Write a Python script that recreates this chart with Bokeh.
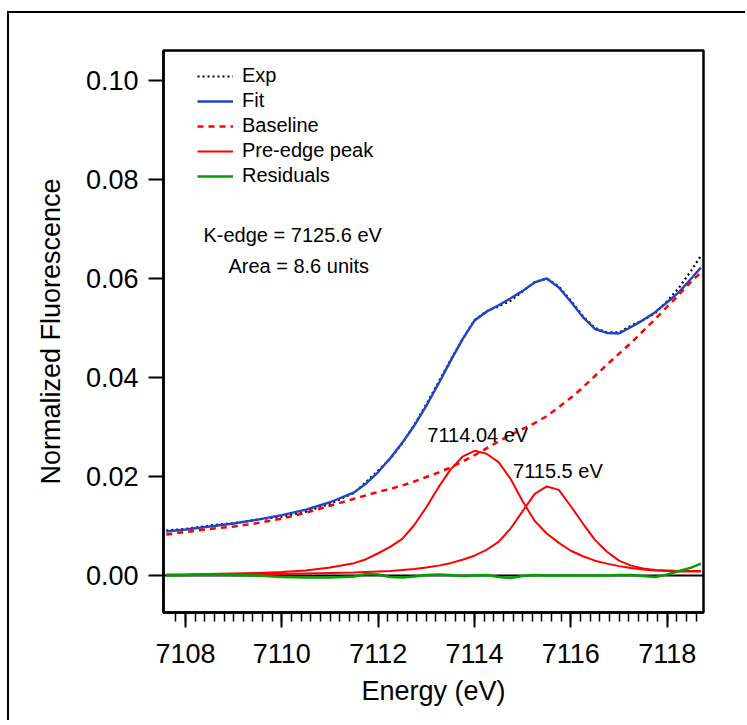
from bokeh.plotting import figure
from bokeh.models import (FixedTicker, Legend, LegendItem, Label, InlineStyleSheet,
                          Span, PrintfTickFormatter, Range1d)
from bokeh.embed import file_html
from bokeh.resources import INLINE

# ---------------- data ----------------
energy = [7107.6, 7108.0, 7108.5, 7109.0, 7109.5, 7110.0, 7110.5, 7111.0, 7111.5,
          7111.75, 7112.0, 7112.25, 7112.5, 7112.75, 7113.0, 7113.25, 7113.5,
          7113.75, 7114.0, 7114.25, 7114.5, 7114.75, 7115.0, 7115.25, 7115.5,
          7115.75, 7116.0, 7116.25, 7116.5, 7116.75, 7117.0, 7117.25, 7117.5,
          7117.75, 7118.0, 7118.25, 7118.5, 7118.7]

exp = [0.0091, 0.0094, 0.0101, 0.0106, 0.0113, 0.0119, 0.0129, 0.0145, 0.0167,
       0.0189, 0.0212, 0.0236, 0.0267, 0.0304, 0.0346, 0.0390, 0.0435,
       0.0477, 0.0516, 0.0534, 0.0544, 0.0555, 0.0574, 0.0593, 0.0600,
       0.0584, 0.0555, 0.0524, 0.0500, 0.0491, 0.0491, 0.0505, 0.0516,
       0.0530, 0.0554, 0.0582, 0.0616, 0.0646]

fit = [0.0089, 0.0093, 0.0099, 0.0105, 0.0113, 0.0122, 0.0133, 0.0148, 0.0168,
       0.0186, 0.0209, 0.0237, 0.0268, 0.0303, 0.0343, 0.0387, 0.0433,
       0.0477, 0.0515, 0.0533, 0.0546, 0.0560, 0.0575, 0.0592, 0.0600,
       0.0582, 0.0553, 0.0522, 0.0498, 0.0490, 0.0489, 0.0502, 0.0516,
       0.0532, 0.0552, 0.0573, 0.0600, 0.0622]

baseline = [0.0083, 0.0088, 0.0094, 0.0099, 0.0106, 0.0115, 0.0127, 0.0141, 0.0155,
            0.0162, 0.0169, 0.0175, 0.0182, 0.0190, 0.0199, 0.0208, 0.0218,
            0.0230, 0.0243, 0.0257, 0.0271, 0.0284, 0.0296, 0.0308, 0.0322,
            0.0340, 0.0359, 0.0380, 0.0403, 0.0426, 0.0448, 0.0470, 0.0494,
            0.0518, 0.0543, 0.0568, 0.0594, 0.0612]

peak1 = [0.0002, 0.0002, 0.0003, 0.0004, 0.0005, 0.0007, 0.0010, 0.0016, 0.0025,
         0.0033, 0.0045, 0.0058, 0.0074, 0.0102, 0.0138, 0.0178, 0.0214,
         0.0240, 0.0252, 0.0246, 0.0229, 0.0195, 0.0150, 0.0110, 0.0085,
         0.0066, 0.0050, 0.0039, 0.0030, 0.0024, 0.0019, 0.0015, 0.0012,
         0.0010, 0.0009, 0.0008, 0.0008, 0.0008]

peak2 = [0.0001, 0.0001, 0.0002, 0.0002, 0.0003, 0.0003, 0.0004, 0.0005, 0.0006,
         0.0007, 0.0008, 0.0009, 0.0011, 0.0013, 0.0016, 0.0020, 0.0025,
         0.0032, 0.0040, 0.0052, 0.0068, 0.0095, 0.0130, 0.0165, 0.0180,
         0.0173, 0.0140, 0.0105, 0.0072, 0.0048, 0.0030, 0.0020, 0.0014,
         0.0011, 0.0010, 0.0009, 0.0009, 0.0009]

residuals = [0.0000, 0.0001, 0.0002, 0.0001, 0.0000, -0.0003, -0.0004, -0.0004, -0.0002,
             0.0003, 0.0002, -0.0003, -0.0004, -0.0002, 0.0001, 0.0002, 0.0001,
             -0.0001, 0.0000, 0.0001, -0.0003, -0.0005, -0.0001, 0.0001, 0.0000,
             0.0000, 0.0000, 0.0000, 0.0000, 0.0000, 0.0001, 0.0001, -0.0001,
             -0.0003, 0.0002, 0.0009, 0.0016, 0.0024]

x_major_ticks = [7108, 7110, 7112, 7114, 7116, 7118]
x_minor_ticks = [round(7107.8 + 0.2 * i, 1) for i in range(55)]
y_ticks = [0.00, 0.02, 0.04, 0.06, 0.08, 0.10]

legend_labels = ["Exp", "Fit", "Baseline", "Pre-edge peak", "Residuals"]
kedge_text = "K-edge = 7125.6 eV"
area_text = "Area = 8.6 units"
peak1_text = "7114.04 eV"
peak2_text = "7115.5 eV"

FONT = "Liberation Sans"

# Outer page frame: only its left and top edges fall inside the window.
frame_css = InlineStyleSheet(css="""
:host { position: relative; overflow: hidden; }
:host::after {
  content: "";
  position: absolute;
  left: 7px; top: 11px; right: 0px; bottom: 0px;
  border-left: 2px solid black;
  border-top: 2px solid black;
  pointer-events: none;
  z-index: 100;
}
""")

# ---------------- figure ----------------
p = figure(width=745, height=720, output_backend="svg", toolbar_location=None,
           x_range=Range1d(7107.543, 7118.754), y_range=Range1d(-0.00747, 0.10606),
           min_border_left=163, min_border_right=42, min_border_top=50,
           min_border_bottom=108, stylesheets=[frame_css])
p.background_fill_color = "white"
p.border_fill_color = "white"
p.outline_line_color = "black"
p.outline_line_width = 2.5
p.xgrid.visible = False
p.ygrid.visible = False

# zero line
p.add_layout(Span(location=0, dimension="width", line_color="black",
                  line_width=2, level="underlay"))

r_exp = p.line(energy, exp, line_color="black", line_width=2.2, line_dash="2 3")
r_fit = p.line(energy, fit, line_color="#1f45c8", line_width=2.4)
r_base = p.line(energy, baseline, line_color="#ff0000", line_width=2.5, line_dash="6 5")
r_p1 = p.line(energy, peak1, line_color="#ff0000", line_width=2)
r_p2 = p.line(energy, peak2, line_color="#ff0000", line_width=2)
r_res = p.line(energy, residuals, line_color="#00a000", line_width=2.5)

# axes
xa = p.xaxis[0]
xa.ticker = FixedTicker(ticks=x_major_ticks, minor_ticks=x_minor_ticks)
xa.axis_label = "Energy (eV)"
ya = p.yaxis[0]
ya.ticker = FixedTicker(ticks=y_ticks, minor_ticks=[])
ya.formatter = PrintfTickFormatter(format="%.2f")
ya.axis_label = "Normalized Fluorescence"

for ax in (xa, ya):
    ax.axis_line_color = "black"
    ax.axis_line_width = 2.5
    ax.major_tick_in = 0
    ax.major_tick_out = 15
    ax.major_tick_line_color = "black"
    ax.major_tick_line_width = 2
    ax.minor_tick_in = 0
    ax.minor_tick_line_color = "black"
    ax.minor_tick_line_width = 1.5
    ax.major_label_text_font = FONT
    ax.major_label_text_font_size = "27px"
    ax.major_label_text_color = "black"
    ax.axis_label_text_font = FONT
    ax.axis_label_text_font_size = "27px"
    ax.axis_label_text_font_style = "normal"
    ax.axis_label_text_color = "black"

xa.minor_tick_out = 9
xa.major_label_standoff = 16
xa.axis_label_standoff = 10
ya.minor_tick_out = 0
ya.major_label_standoff = 10
ya.axis_label_standoff = 17

# legend
legend = Legend(items=[LegendItem(label=lab, renderers=[r])
                       for lab, r in zip(legend_labels, [r_exp, r_fit, r_base, r_p1, r_res])],
                location=(29, 420))
legend.border_line_alpha = 0
legend.background_fill_alpha = 0
legend.label_text_font = FONT
legend.label_text_font_size = "20px"
legend.label_text_color = "black"
legend.glyph_width = 36
legend.glyph_height = 20
legend.label_height = 20
legend.label_standoff = 9
legend.spacing = 2
legend.padding = 5
legend.margin = 0
p.add_layout(legend)

# annotations
for txt, x, y in [(kedge_text, 7108.373, 0.0687), (area_text, 7108.89, 0.0626),
                  (peak1_text, 7113.02, 0.0283), (peak2_text, 7114.80, 0.0212)]:
    p.add_layout(Label(x=x, y=y, text=txt, text_font=FONT, text_font_size="20px",
                       text_color="black", text_align="left",
                       text_baseline="alphabetic"))

open("out.html", "w").write(file_html(p, INLINE))
